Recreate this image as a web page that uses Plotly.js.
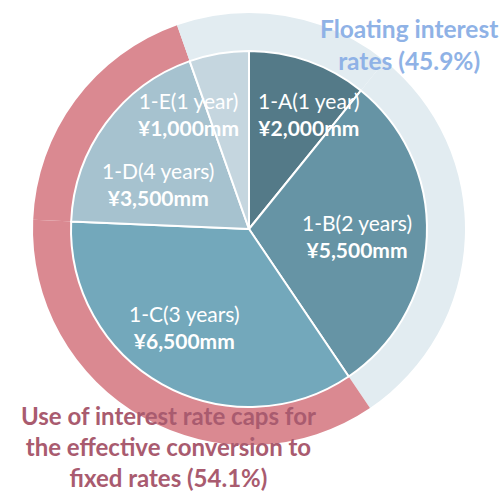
<!DOCTYPE html>
<html>
<head>
<meta charset="utf-8">
<script src="https://cdn.plot.ly/plotly-3.0.1.min.js"></script>
<style>html,body{margin:0;padding:0;background:#fff;}#chart{width:504px;height:495px;}</style>
</head>
<body>
<div id="chart"></div>
<script>
// ---- data ----
const categories = ["1-A(1 year)", "1-B(2 years)", "1-C(3 years)", "1-D(4 years)", "1-E(1 year)"];
const amounts = [2000, 5500, 6500, 3500, 1000]; // ¥ mm
const groups = ["floating", "floating", "caps", "caps", "floating"];
const groupNames = {
  floating: "Floating interest<br>rates",
  caps: "Use of interest rate caps for<br>the effective conversion to<br>fixed rates"
};

// ---- styles ----
const sliceColors = ["#547a88", "#6694a5", "#73a8bb", "#a6c2cf", "#c5d6df"];
const groupColors = {floating: "#e2ecf1", caps: "#da8991"};
const groupTextColors = {floating: "#8fb2e6", caps: "#a95b6f"};

const total = amounts.reduce((a, b) => a + b, 0);
const groupShare = g => amounts.reduce((s, v, i) => s + (groups[i] === g ? v : 0), 0) / total * 100;
const fmt = v => "¥" + v.toLocaleString("en-US") + "mm";

const W = 504, H = 495;
const cx = 249, cy = 229, rOuter = 216, rInner = 178;
const dom = r => ({x: [(cx - r) / W, (cx + r) / W], y: [1 - (cy + r) / H, 1 - (cy - r) / H]});

const outer = {
  type: "pie",
  values: amounts,
  labels: categories.map(c => "o" + c),
  marker: {colors: groups.map(g => groupColors[g]), line: {width: 0}},
  hole: rInner / rOuter - 0.01,
  sort: false,
  direction: "clockwise",
  rotation: 0,
  textinfo: "none",
  hoverinfo: "skip",
  domain: dom(rOuter),
  showlegend: false
};
const inner = {
  type: "pie",
  values: amounts,
  labels: categories,
  marker: {colors: sliceColors, line: {color: "#ffffff", width: 2}},
  sort: false,
  direction: "clockwise",
  rotation: 0,
  textinfo: "none",
  hoverinfo: "skip",
  domain: dom(rInner),
  showlegend: false
};

// label anchor positions (pixels)
const labelPos = [[309, 114], [357, 236], [184, 327], [158, 184], [188, 114]];
const F = "Lato, 'Noto Sans', sans-serif";
const annotations = categories.map((c, i) => ({
  x: labelPos[i][0] / W, y: 1 - labelPos[i][1] / H, xref: "paper", yref: "paper",
  text: c + "<br><b>" + fmt(amounts[i]) + "</b>",
  showarrow: false, xanchor: "center", yanchor: "middle",
  font: {family: F, size: 21, color: "#ffffff"}
}));
annotations.push({
  x: 409 / W, y: 1 - 44 / H, xref: "paper", yref: "paper",
  text: "<b>" + groupNames.floating + " (" + groupShare("floating").toFixed(1) + "%)</b>",
  showarrow: false, xanchor: "center", yanchor: "middle", borderpad: 0,
  font: {family: F, size: 24.5, color: groupTextColors.floating}
});
annotations.push({
  x: 168 / W, y: 1 - 446 / H, xref: "paper", yref: "paper",
  text: "<b>" + groupNames.caps + " (" + groupShare("caps").toFixed(1) + "%)</b>",
  showarrow: false, xanchor: "center", yanchor: "middle", borderpad: 0,
  font: {family: F, size: 24, color: groupTextColors.caps}
});

Plotly.newPlot("chart", [outer, inner], {
  width: W, height: H,
  margin: {l: 0, r: 0, t: 0, b: 0},
  paper_bgcolor: "#ffffff",
  annotations: annotations
}, {staticPlot: true});
</script>
</body>
</html>
